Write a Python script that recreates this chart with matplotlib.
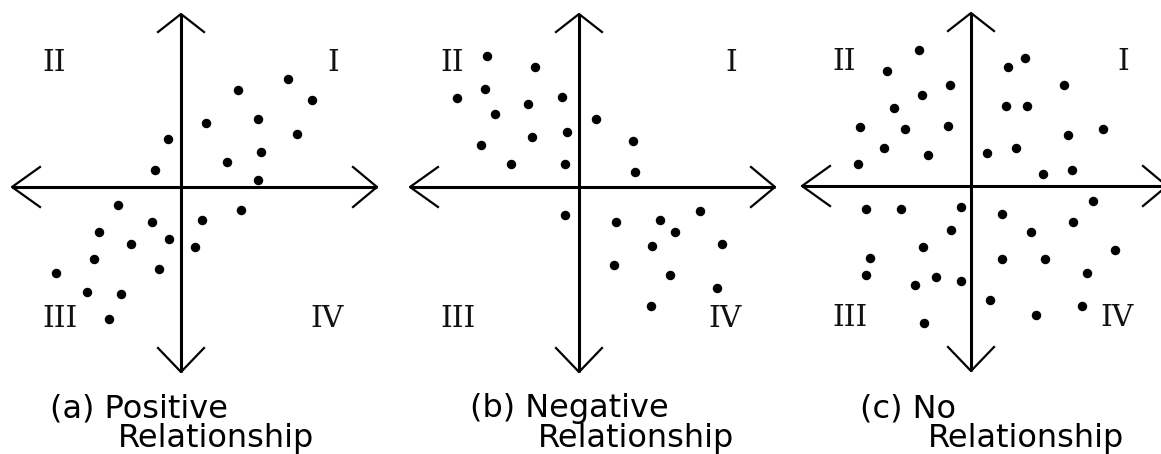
import numpy as np
import matplotlib.pyplot as plt

pos_x = [106.7, 57.3, 131.3, 25.0, 76.7, 116.3, -13.3, 80.0, 45.7, -26.0, 76.7, -62.7, 59.7,
         -29.3, 20.7, -82.3, -50.3, -11.7, 13.7, -86.7, -125.0, -21.7, -93.7, -60.3, -72.3]
pos_y = [108.3, 97.0, 87.3, 63.7, 68.0, 53.0, 48.3, 34.7, 24.7, 17.3, 7.3, -17.7, -23.3,
         -35.0, -33.0, -44.7, -56.7, -52.3, -60.3, -72.0, -86.3, -81.7, -105.3, -107.0, -132.3]

neg_x = [-92.0, -43.7, -93.7, -122.3, -16.7, -51.0, -84.0, 17.3, -11.7, -47.0, 54.3, -97.7, -68.0,
         -14.3, 55.7, -14.3, 121.3, 36.7, 81.0, 96.3, 73.3, 142.7, 35.0, 91.0, 137.7, 71.7]
neg_y = [131.3, 119.7, 98.3, 88.7, 90.3, 82.7, 73.0, 67.7, 55.3, 50.3, 45.7, 42.0, 22.7,
         22.7, 15.0, -28.0, -24.0, -35.0, -33.3, -45.0, -59.0, -57.0, -78.3, -88.3, -101.3, -119.0]

none_x = [-52.3, 54.0, 36.7, -84.0, -21.3, 93.0, -48.7, 35.0, 56.0, -77.3, -111.0, -66.3, -23.3,
          131.7, 96.7, -87.3, 44.7, 15.7, -42.7, -112.7, 72.0, 100.7, 121.7, -104.7, -70.0, -10.0,
          30.7, 102.3, -19.7, 59.7, -47.7, 143.7, -101.3, 30.7, 73.7, -104.7, 116.3, -35.3, -10.0,
          -56.3, 19.0, 110.7, 65.3, -47.0]
none_y = [136.3, 128.3, 118.7, 115.0, 101.0, 101.0, 91.3, 80.0, 80.0, 78.0, 58.7, 57.0, 60.3,
          57.0, 51.0, 37.7, 37.7, 33.3, 31.3, 21.7, 12.3, 15.7, -15.3, -23.0, -23.0, -21.0,
          -27.7, -36.3, -44.3, -46.0, -60.7, -63.7, -71.7, -73.0, -73.0, -88.7, -87.0, -90.7, -95.3,
          -99.0, -114.3, -119.7, -129.3, -137.3]

captions = ["(a) Positive", "(b) Negative", "(c) No"]
second_line = "Relationship"
quadrants = ["I", "II", "III", "IV"]

W, H = 1161, 454
fig = plt.figure(figsize=(W / 100, H / 100), dpi=100)

# panel origins in pixels (x from left, y from top)
origins = [(181, 187), (579, 187), (971, 186)]
datasets = [(pos_x, pos_y), (neg_x, neg_y), (none_x, none_y)]

quad_xy = [(152, 124), (-127, 124), (-121, -132), (146, -132)]
x_end = (-169, 196)
y_end = (-185, 173)
arm, spread = 24, 20

for (ox, oy), (xs, ys) in zip(origins, datasets):
    left, right = ox - 190, ox + 200
    top, bottom = 0, 380
    ax = fig.add_axes([left / W, 1 - bottom / H, (right - left) / W, (bottom - top) / H])
    ax.set_xlim(-190, 200)
    ax.set_ylim(oy - bottom, oy - top)
    ax.axis("off")

    # axes lines
    ax.plot(x_end, [0, 0], color="black", lw=2.2, solid_capstyle="butt", clip_on=False)
    ax.plot([0, 0], y_end, color="black", lw=2.2, solid_capstyle="butt", clip_on=False)
    # chevron arrow heads
    hk = dict(color="black", lw=1.6, clip_on=False)
    ax.plot([x_end[0] + arm + 4, x_end[0], x_end[0] + arm + 4], [spread, 0, -spread], **hk)
    ax.plot([x_end[1] - arm, x_end[1], x_end[1] - arm], [spread, 0, -spread], **hk)
    ax.plot([-spread - 3, 0, spread + 3], [y_end[1] - arm + 6, y_end[1], y_end[1] - arm + 6], **hk)
    ax.plot([-spread - 3, 0, spread + 3], [y_end[0] + arm, y_end[0], y_end[0] + arm], **hk)

    ax.plot(xs, ys, "o", color="black", markersize=5.8, clip_on=False)

    for lab, (qx, qy) in zip(quadrants, quad_xy):
        ax.text(qx, qy, lab, ha="center", va="center", family="DejaVu Serif",
                fontsize=21.5, color="#111111")

# captions
cap_left = [50, 470, 860]
rel_left = [118, 538, 928]
for cap, x1, x2 in zip(captions, cap_left, rel_left):
    fig.text(x1 / W, 1 - 417 / H, cap, ha="left", va="baseline", fontsize=23,
             family="DejaVu Sans")
    fig.text(x2 / W, 1 - 447 / H, second_line, ha="left", va="baseline", fontsize=23,
             family="DejaVu Sans")

fig.savefig("out.png", dpi=100)
